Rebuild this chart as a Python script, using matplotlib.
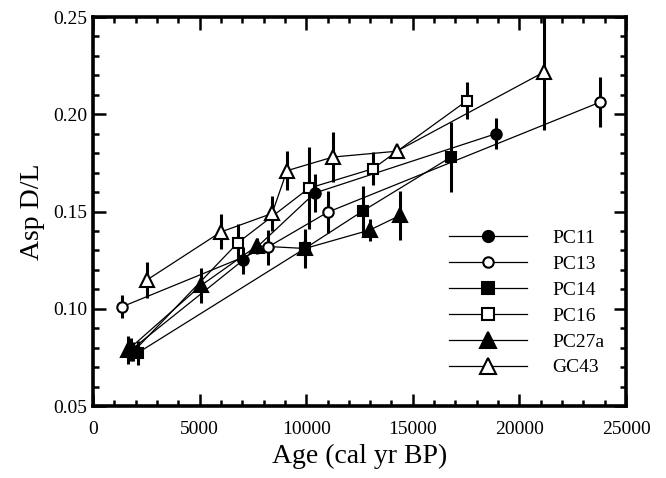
import matplotlib

matplotlib.use("Agg")
import matplotlib.pyplot as plt
from matplotlib.ticker import MultipleLocator, FormatStrFormatter

plt.rcParams["font.family"] = ["Liberation Serif", "DejaVu Serif"]

# Age (cal yr BP), Asp D/L and error per core
pc11_age = [1800, 7040, 10400, 18900]
pc11_dl = [0.079, 0.125, 0.1595, 0.190]
pc11_err = [0.006, 0.007, 0.010, 0.008]

pc13_age = [1360, 8200, 11020, 23800]
pc13_dl = [0.101, 0.1317, 0.1497, 0.2063]
pc13_err = [0.006, 0.009, 0.011, 0.013]

pc14_age = [2100, 9940, 12660, 16790]
pc14_dl = [0.0773, 0.131, 0.1503, 0.178]
pc14_err = [0.006, 0.010, 0.013, 0.018]

pc16_age = [1900, 6800, 10130, 13130, 17540]
pc16_dl = [0.078, 0.134, 0.162, 0.172, 0.207]
pc16_err = [0.005, 0.0095, 0.021, 0.0086, 0.0094]

pc27a_age = [1640, 5070, 7690, 9950, 12990, 14400]
pc27a_dl = [0.0788, 0.112, 0.1323, 0.131, 0.1405, 0.148]
pc27a_err = [0.007, 0.009, 0.004, 0.006, 0.0055, 0.0125]

gc43_age = [2530, 6000, 8400, 9100, 11250, 14250, 21150]
gc43_dl = [0.1148, 0.1395, 0.149, 0.171, 0.178, 0.181, 0.2217]
gc43_err = [0.0095, 0.009, 0.009, 0.010, 0.013, 0.0, 0.030]

series = [
    ("PC16", pc16_age, pc16_dl, pc16_err, "s", "white", 7.5, 9),
    ("PC11", pc11_age, pc11_dl, pc11_err, "o", "black", 7.5, 8),
    ("PC13", pc13_age, pc13_dl, pc13_err, "o", "white", 7.5, 7.5),
    ("PC27a", pc27a_age, pc27a_dl, pc27a_err, "^", "black", 9.5, 11),
    ("PC14", pc14_age, pc14_dl, pc14_err, "s", "black", 7.5, 9),
    ("GC43", gc43_age, gc43_dl, gc43_err, "^", "white", 9.5, 11),
]
legend_order = ["PC11", "PC13", "PC14", "PC16", "PC27a", "GC43"]

fig = plt.figure(figsize=(6.66, 4.78), dpi=100)
ax = fig.add_axes([0.1396, 0.1506, 0.8004, 0.8138])

handles = {}
for z, (name, age, dl, err, marker, face, ms, legend_ms) in enumerate(series):
    ax.errorbar(age, dl, yerr=err, fmt="none", ecolor="black",
                elinewidth=2.2, capsize=0, zorder=2 + z)
    ax.plot(age, dl, color="black", linewidth=0.9, zorder=2 + z)
    ax.plot(age, dl, linestyle="none", marker=marker, markersize=ms,
            markerfacecolor=face, markeredgecolor="black",
            markeredgewidth=1.5, zorder=10 + z)
    (handles[name],) = ax.plot([], [], color="black", linewidth=0.9,
                               marker=marker, markersize=legend_ms,
                               markerfacecolor=face, markeredgecolor="black",
                               markeredgewidth=1.5)

ax.legend([handles[n] for n in legend_order], legend_order,
          loc="upper left", bbox_to_anchor=(0.668, 0.455), frameon=False,
          fontsize=14, handlelength=4.0, handletextpad=1.3,
          labelspacing=0.43, borderpad=0, borderaxespad=0)

ax.set_xlim(0, 25000)
ax.set_ylim(0.05, 0.25)
ax.xaxis.set_major_locator(MultipleLocator(5000))
ax.xaxis.set_minor_locator(MultipleLocator(1000))
ax.yaxis.set_major_locator(MultipleLocator(0.05))
ax.yaxis.set_minor_locator(MultipleLocator(0.01))
ax.yaxis.set_major_formatter(FormatStrFormatter("%.2f"))

ax.tick_params(which="both", direction="in", top=True, right=True,
               width=1.8, labelsize=14)
ax.tick_params(axis="x", pad=11)
ax.tick_params(axis="y", pad=4)
ax.tick_params(which="major", length=9)
ax.tick_params(which="minor", length=4.5)
for spine in ax.spines.values():
    spine.set_linewidth(2.6)

ax.set_xlabel("Age (cal yr BP)", fontsize=20, labelpad=4)
ax.set_ylabel("Asp D/L", fontsize=20, labelpad=6)

fig.savefig("out.png", dpi=100)
plt.close(fig)
